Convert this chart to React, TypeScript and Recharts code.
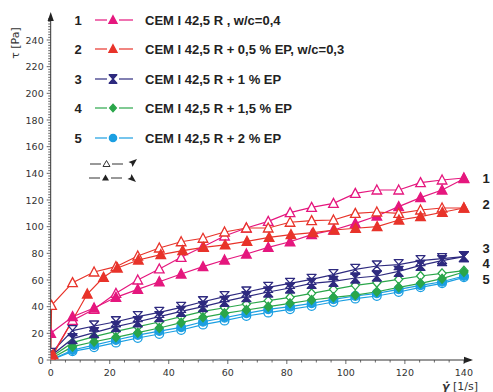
import React from 'react';
import { LineChart, Line, XAxis, YAxis } from 'recharts';

// ---------- data ----------
const seriesNumbers = ['1', '2', '3', '4', '5'];
const seriesLabels = [
  'CEM I 42,5 R , w/c=0,4',
  'CEM I 42,5 R + 0,5 % EP, w/c=0,3',
  'CEM I 42,5 R + 1 % EP',
  'CEM I 42,5 R + 1,5 % EP',
  'CEM I 42,5 R + 2 % EP',
];
const seriesColors = ['#e5177e', '#e8332a', '#2e2a7f', '#2aa64a', '#1b9fe2'];
const seriesShapes = ['triangle', 'triangle', 'hourglass', 'diamond', 'circle'];

const shearRate = [0, 7.4, 14.7, 22.1, 29.5, 36.8, 44.2, 51.6, 58.9, 66.3, 73.7, 81.1, 88.4, 95.8, 103.2, 110.5, 117.9, 125.3, 132.6, 140];

// 1 : CEM I 42,5 R, w/c=0,4
const s1Up = [2, 29.7, 38, 50, 60, 68.3, 77, 85, 93, 99, 104, 110.5, 114.5, 117.5, 125, 127.5, 127.5, 133, 135, 136.5];
const s1Down = [20, 32.5, 39, 47, 53, 58.7, 64.5, 70, 75, 79.5, 84.5, 88.7, 94, 97.5, 102.5, 108, 115, 121.8, 127.5, 136];

// 2 : + 0,5 % EP, w/c=0,3
const s2UpRate = [0, 0.3, 7.4, 14.7, 22.1, 29.5, 36.8, 44.2, 51.6, 58.9, 66.3, 73.7, 81.1, 88.4, 95.8, 103.2, 110.5, 117.9, 125.3, 132.6, 140];
const s2Up = [3, 41, 58, 66, 70, 78, 84, 88.7, 91.3, 96, 99, 99, 103.3, 104.5, 105, 110, 111, 110, 112.5, 114, 114];
const s2DownRate = [0.8, 12.4, 17.9, 22.6, 29.7, 37.3, 44.7, 51.8, 59.1, 66.5, 74, 81.4, 88.9, 96.1, 103.3, 110.6, 118, 125.3, 132.7, 140];
const s2Down = [4, 49.5, 62, 69, 75, 79, 82, 84.5, 86.3, 89, 92, 94, 95.5, 97.5, 98.8, 100, 105, 107.5, 110.8, 114];

// 3 : + 1 % EP
const s3Up = [5, 22, 25.5, 28.7, 32.5, 35.7, 39.5, 43.7, 47.5, 51, 54.5, 57.5, 60.5, 64, 68, 70.5, 71.5, 74.5, 76, 77.5];
const s3Down = [3, 16, 20.5, 25, 28.7, 32.5, 36.5, 40, 44, 47.5, 51, 54, 57.5, 59, 61.5, 63, 66.5, 71, 74.5, 77.5];

// 4 : + 1,5 % EP
const s4Up = [2, 13, 17.5, 21.5, 25, 28.5, 32.5, 36.5, 39.2, 42, 44.5, 47, 50, 53, 56, 58, 60.5, 63, 65, 67];
const s4Down = [1, 10, 13.7, 17, 20.5, 24, 28, 32, 35, 37.5, 40, 42.5, 45, 47, 48.7, 51.2, 54.5, 57.5, 61, 66];

// 5 : + 2 % EP
const s5Up = [0, 6.5, 9.5, 13, 16.5, 19.5, 22.5, 26.5, 29.5, 33, 35.5, 38, 40.5, 43.5, 46, 48, 51, 54.5, 57.5, 62];
const s5Down = [0, 7.5, 11.2, 15, 18.7, 21.7, 24.5, 28.7, 31.7, 35, 38, 40, 42.5, 45.5, 48, 50, 53, 56, 58.7, 63];

const yTicks = Array.from({ length: 129 }, (_, i) => i * 2);
const xTicks = Array.from({ length: 29 }, (_, i) => i * 5);

const zip = (xs: number[], ys: number[]) => xs.map((x, i) => ({ x, y: ys[i] }));

type SeriesDef = { key: string; rows: { x: number; y: number }[]; idx: number; filled: boolean };
const series: SeriesDef[] = [
  { key: 's5u', rows: zip(shearRate, s5Up), idx: 4, filled: false },
  { key: 's5d', rows: zip(shearRate, s5Down), idx: 4, filled: true },
  { key: 's4u', rows: zip(shearRate, s4Up), idx: 3, filled: false },
  { key: 's4d', rows: zip(shearRate, s4Down), idx: 3, filled: true },
  { key: 's3u', rows: zip(shearRate, s3Up), idx: 2, filled: false },
  { key: 's3d', rows: zip(shearRate, s3Down), idx: 2, filled: true },
  { key: 's1u', rows: zip(shearRate, s1Up), idx: 0, filled: false },
  { key: 's1d', rows: zip(shearRate, s1Down), idx: 0, filled: true },
  { key: 's2u', rows: zip(s2UpRate, s2Up), idx: 1, filled: false },
  { key: 's2d', rows: zip(s2DownRate, s2Down), idx: 1, filled: true },
];

// ---------- marker shapes ----------
const Marker = ({ shape, cx, cy, color, filled, scale = 1 }: any) => {
  if (cx == null || cy == null) return null;
  const fill = filled ? color : '#ffffff';
  const sw = 1.3;
  const s = scale;
  if (shape === 'triangle') {
    const pts = `${cx},${cy - 5 * s} ${cx + 4.8 * s},${cy + 4 * s} ${cx - 4.8 * s},${cy + 4 * s}`;
    return <polygon points={pts} fill={fill} stroke={color} strokeWidth={sw} />;
  }
  if (shape === 'hourglass') {
    const pts = `${cx - 4.5 * s},${cy - 5 * s} ${cx + 4.5 * s},${cy - 5 * s} ${cx},${cy} ${cx + 4.5 * s},${cy + 5 * s} ${cx - 4.5 * s},${cy + 5 * s} ${cx},${cy}`;
    return <polygon points={pts} fill={fill} stroke={color} strokeWidth={sw} strokeLinejoin="round" />;
  }
  if (shape === 'diamond') {
    const pts = `${cx},${cy - 4.5 * s} ${cx + 4 * s},${cy} ${cx},${cy + 4.5 * s} ${cx - 4 * s},${cy}`;
    return <polygon points={pts} fill={fill} stroke={color} strokeWidth={sw} />;
  }
  return <circle cx={cx} cy={cy} r={4.3 * s} fill={fill} stroke={color} strokeWidth={sw} />;
};

const makeDot = (key: string, shape: string, color: string, filled: boolean) => (p: any) => (
  <Marker key={`${key}-${p.index}`} shape={shape} cx={p.cx} cy={p.cy} color={color} filled={filled} />
);

// ---------- ticks ----------
const tickFont = 'DejaVu Sans, Verdana, sans-serif';
const YTick = (p: any) => {
  const v = p.payload.value;
  const major = v % 20 === 0;
  return (
    <g>
      <line x1={p.x} x2={p.x - (major ? 4 : 2.5)} y1={p.y} y2={p.y} stroke="#444" strokeWidth={0.8} />
      {major && (
        <text x={p.x - 7} y={p.y} textAnchor="end" dominantBaseline="central" fontSize={9.5} fill="#333" fontFamily={tickFont}>
          {v}
        </text>
      )}
    </g>
  );
};
const XTick = (p: any) => {
  const v = p.payload.value;
  const major = v % 20 === 0;
  return (
    <g>
      <line x1={p.x} x2={p.x} y1={p.y} y2={p.y + (major ? 4 : 2.5)} stroke="#444" strokeWidth={0.8} />
      {major && (
        <text x={p.x} y={p.y + 12} textAnchor="middle" dominantBaseline="central" fontSize={9.5} fill="#333" fontFamily={tickFont}>
          {v}
        </text>
      )}
    </g>
  );
};

// ---------- layout ----------
const W = 493;
const H = 392;
const legendRowsY = [20, 49, 79, 108, 138];
const endLabelY = [178, 204, 248, 263, 279];
const boldFont = 'Liberation Sans, Arial, sans-serif';

export default function App() {
  return (
    <div style={{ position: 'absolute', left: 0, top: 0, width: W, height: H, background: '#fff' }}>
      <LineChart width={W} height={H} margin={{ top: 16, right: 22.3, bottom: 0, left: 10.7 }}>
        <XAxis
          dataKey="x"
          type="number"
          domain={[0, 142.3]}
          allowDataOverflow
          ticks={xTicks}
          interval={0}
          tickSize={0}
          tickMargin={0}
          tickLine={false}
          tick={<XTick />}
          height={32}
          axisLine={{ stroke: '#333', strokeWidth: 1 }}
        />
        <YAxis
          dataKey="y"
          type="number"
          domain={[0, 258]}
          allowDataOverflow
          ticks={yTicks}
          interval={0}
          tickSize={0}
          tickMargin={0}
          tickLine={false}
          tick={<YTick />}
          width={40}
          axisLine={{ stroke: '#333', strokeWidth: 1 }}
        />
        {series.map((s) => (
          <Line
            key={s.key}
            data={s.rows}
            dataKey="y"
            type="linear"
            stroke={seriesColors[s.idx]}
            strokeWidth={1.2}
            dot={makeDot(s.key, seriesShapes[s.idx], seriesColors[s.idx], s.filled)}
            activeDot={false}
            isAnimationActive={false}
          />
        ))}
      </LineChart>
      <svg width={W} height={H} style={{ position: 'absolute', left: 0, top: 0, pointerEvents: 'none' }}>
        {/* axis arrows */}
        <polygon points="50.7,12 47.6,21 53.8,21" fill="#222" />
        <polygon points="473,360 464,356.8 464,363.2" fill="#222" />
        {/* axis titles */}
        <text transform="translate(15,43) rotate(-90)" textAnchor="middle" dominantBaseline="central" fontSize={11} fill="#333" fontFamily={tickFont}>
          τ [Pa]
        </text>
        <text x={442} y={386} dominantBaseline="central" fontSize={11} fill="#333" fontFamily={tickFont}>
          <tspan fontStyle="italic" fontWeight="bold">γ̇</tspan> [1/s]
        </text>
        {/* legend */}
        {seriesLabels.map((lab, i) => (
          <g key={lab}>
            <text x={78} y={legendRowsY[i]} textAnchor="middle" dominantBaseline="central" fontSize={13} fontWeight="bold" fill="#222" fontFamily={boldFont}>
              {seriesNumbers[i]}
            </text>
            <line x1={95} x2={107} y1={legendRowsY[i]} y2={legendRowsY[i]} stroke={seriesColors[i]} strokeWidth={1.2} />
            <line x1={119} x2={133} y1={legendRowsY[i]} y2={legendRowsY[i]} stroke={seriesColors[i]} strokeWidth={1.2} />
            <Marker shape={seriesShapes[i]} cx={113} cy={legendRowsY[i]} color={seriesColors[i]} filled scale={0.85} />
            <text x={145} y={legendRowsY[i]} dominantBaseline="central" fontSize={13} fontWeight="bold" fill="#222" fontFamily={boldFont}>
              {lab}
            </text>
          </g>
        ))}
        {/* direction legend */}
        <line x1={90} x2={101} y1={164} y2={164} stroke="#333" strokeWidth={1} />
        <line x1={112} x2={123} y1={164} y2={164} stroke="#333" strokeWidth={1} />
        <polygon points="106.5,160.5 110,166.5 103,166.5" fill="#fff" stroke="#333" strokeWidth={1} />
        <polygon points="137,159 128.5,162 131.5,163.5 132.5,167" fill="#222" />
        <line x1={89} x2={100} y1={178} y2={178} stroke="#333" strokeWidth={1} />
        <line x1={111} x2={122} y1={178} y2={178} stroke="#333" strokeWidth={1} />
        <polygon points="105.5,174.5 109,180.5 102,180.5" fill="#222" />
        <polygon points="136,182 127.5,179 130.5,177.5 131.5,174" fill="#222" />
        {/* end labels */}
        {seriesNumbers.map((n, i) => (
          <text key={n} x={486} y={endLabelY[i]} textAnchor="middle" dominantBaseline="central" fontSize={13} fontWeight="bold" fill="#222" fontFamily={boldFont}>
            {n}
          </text>
        ))}
      </svg>
    </div>
  );
}
